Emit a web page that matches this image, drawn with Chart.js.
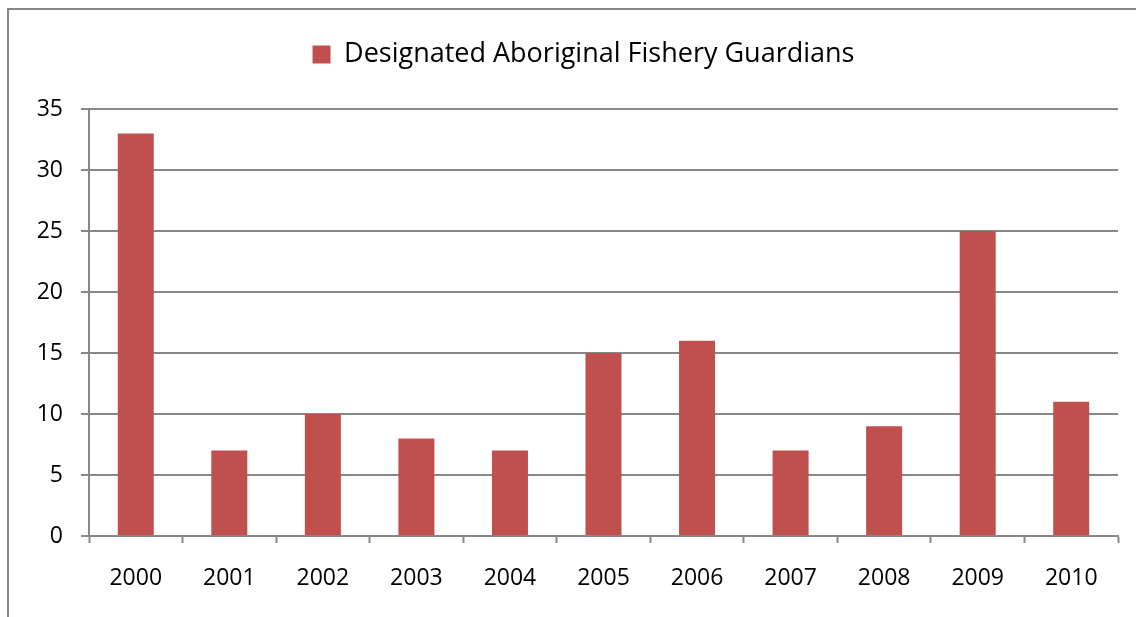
<!DOCTYPE html>
<html>
<head>
<meta charset="utf-8">
<script src="https://cdn.jsdelivr.net/npm/chart.js@4"></script>
<style>
    html, body { margin: 0; padding: 0; background: #fff; overflow: hidden; }
    #frame {
        position: absolute; left: 7px; top: 8px; width: 1200px; height: 700px;
        border-left: 2px solid #888; border-top: 2px solid #888;
    }
    #wrap { position: absolute; left: 0; top: 0; width: 1136px; height: 617px; }
</style>
</head>
<body>
<div id="frame"></div>
<div id="wrap"><canvas id="chart"></canvas></div>
<script>
// === データ ===
const years = ['2000', '2001', '2002', '2003', '2004', '2005', '2006', '2007', '2008', '2009', '2010'];
const guardians = [33, 7, 10, 8, 7, 15, 16, 7, 9, 25, 11];
const seriesLabel = 'Designated Aboriginal Fishery Guardians';

const FONT = "'Open Sans', sans-serif";
const GRID = '#888888';

// 凡例の高さを固定してプロット上端を合わせる / 凡例を右へ寄せる
const legendBox = {
    id: 'legendBox',
    beforeInit(chart) {
        const fit = chart.legend.fit;
        chart.legend.fit = function () {
            fit.call(this);
            this.height = 109;
        };
    },
    afterLayout(chart) {
        chart.legend.left = 49;
    },
};

new Chart(document.getElementById('chart'), {
    type: 'bar',
    data: {
        labels: years,
        datasets: [{
            label: seriesLabel,
            data: guardians,
            backgroundColor: '#c0504d',
            borderWidth: 0,
            barPercentage: 0.385,
            categoryPercentage: 1,
        }],
    },
    options: {
        responsive: true,
        maintainAspectRatio: false,
        animation: false,
        layout: { padding: { left: 0, right: 18, top: 0, bottom: 0 } },
        plugins: {
            legend: {
                position: 'top',
                labels: {
                    boxWidth: 18,
                    boxHeight: 18,
                    padding: 41,
                    color: '#000',
                    font: { family: FONT, size: 27 },
                },
            },
            tooltip: { enabled: false },
        },
        scales: {
            x: {
                afterFit: s => { s.height = 81; },
                grid: {
                    display: true,
                    drawOnChartArea: false,
                    drawTicks: true,
                    tickLength: 7,
                    tickWidth: 2,
                    tickColor: GRID,
                    offset: true,
                },
                border: { display: true, color: GRID, width: 2 },
                ticks: {
                    color: '#000',
                    padding: 22,
                    maxRotation: 0,
                    font: { family: FONT, size: 23 },
                },
            },
            y: {
                min: 0,
                max: 35,
                afterFit: s => { s.width = 89; },
                grid: {
                    color: GRID,
                    lineWidth: 2,
                    tickLength: 8,
                },
                border: { display: true, color: GRID, width: 2 },
                ticks: {
                    stepSize: 5,
                    color: '#000',
                    padding: 18,
                    font: { family: FONT, size: 23 },
                },
            },
        },
    },
    plugins: [legendBox],
});
</script>
</body>
</html>
